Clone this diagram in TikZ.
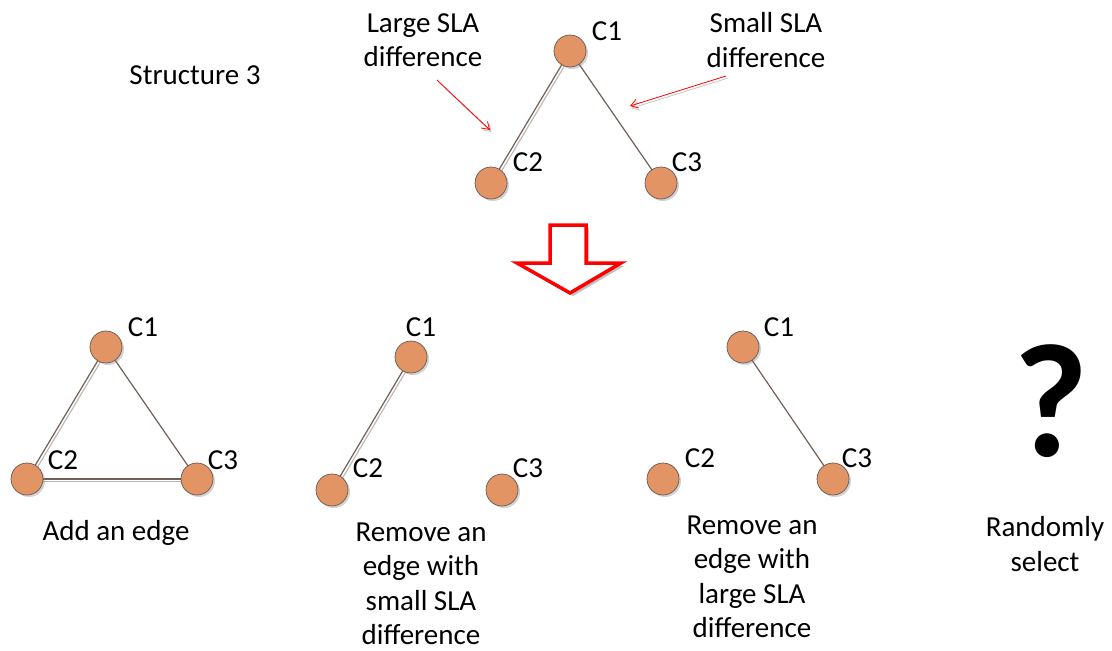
\documentclass[tikz,border=0pt]{standalone}
\usepackage{fontspec}
\setmainfont{Carlito}
\usetikzlibrary{shadows,arrows.meta}
\pgfdeclarelayer{background}
\pgfsetlayers{background,main}
\definecolor{nodefill}{RGB}{226,148,101}
\definecolor{nodeline}{RGB}{105,88,80}
\definecolor{edgecol}{RGB}{112,96,88}
\definecolor{edgelight}{RGB}{190,182,178}
\begin{document}
\begin{tikzpicture}[x=1pt,y=-1pt,
  cnode/.style={circle, minimum size=32pt, inner sep=0pt, fill=nodefill, draw=nodeline, line width=0.7pt,
    drop shadow={shadow xshift=2pt, shadow yshift=-2pt, opacity=0.35, fill=gray}},
  lbl/.style={font=\fontsize{29}{34.5}\selectfont, inner sep=0pt, align=center},
  sedge/.style={draw=edgecol, line width=1.2pt},
  ledge/.style={draw=edgelight, line width=1.1pt},
  redarrow/.style={draw=red, line width=0.8pt, -{Straight Barb[length=7pt,width=9pt]}},
  redshadow/.style={draw=gray!45, line width=0.8pt, -{Straight Barb[length=7pt,width=9pt]}},
  bigarrow/.style={draw=red, line width=3.5pt, fill=white, line join=miter,
    drop shadow={shadow xshift=3pt, shadow yshift=-3pt, opacity=0.5, fill=gray}}
]
\useasboundingbox (0,0) rectangle (1112,651);

% ---------- top structure ----------
\node[lbl] (title) at (195,75) {Structure 3};
\node[lbl] (largelbl) at (423,40) {Large SLA\\difference};
\node[lbl] (smalllbl) at (766,40) {Small SLA\\difference};

\node[cnode] (t1) at (570,51) {};
\node[cnode] (t2) at (491,183) {};
\node[cnode] (t3) at (661,183) {};
\node[lbl] (t1l) at (607,31) {C1};
\node[lbl] (t2l) at (528,162) {C2};
\node[lbl] (t3l) at (687,162) {C3};

\coordinate (la0) at (437,80);
\coordinate (la1) at (490,130);
\coordinate (sa0) at (726,76);
\coordinate (sa1) at (630,106);
\draw[redshadow, transform canvas={shift={(1.5pt,-2pt)}}] (la0) -- (la1);
\draw[redarrow] (la0) -- (la1);
\draw[redshadow, transform canvas={shift={(1.5pt,-2.2pt)}}] (sa0) -- (sa1);
\draw[redarrow] (sa0) -- (sa1);

% ---------- block arrow ----------
\draw[bigarrow] (550,225) -- (586,225) -- (586,263) -- (621,263) -- (570,293) -- (517,263) -- (550,263) -- cycle;

% ---------- bottom left ----------
\node[cnode] (a1) at (106,347) {};
\node[cnode] (a2) at (27,479) {};
\node[cnode] (a3) at (197,479) {};
\node[lbl] (a1l) at (143,327) {C1};
\node[lbl] (a2l) at (63,460) {C2};
\node[lbl] (a3l) at (223,460) {C3};
\node[lbl] (alab) at (116,533) {Add an edge};

% ---------- bottom middle ----------
\node[cnode] (b1) at (411,357) {};
\node[cnode] (b2) at (332,490) {};
\node[cnode] (b3) at (502,490) {};
\node[lbl] (b1l) at (421,327) {C1};
\node[lbl] (b2l) at (368,468) {C2};
\node[lbl] (b3l) at (528,468) {C3};
\node[lbl] (blab) at (421,584) {Remove an\\edge with\\small SLA\\difference};

% ---------- bottom right ----------
\node[cnode] (c1) at (743,347) {};
\node[cnode] (c2) at (663,479) {};
\node[cnode] (c3) at (833,479) {};
\node[lbl] (c1l) at (779,327) {C1};
\node[lbl] (c2l) at (700,458) {C2};
\node[lbl] (c3l) at (857,458) {C3};
\node[lbl] (clab) at (752,577) {Remove an\\edge with\\large SLA\\difference};

% ---------- random ----------
\node[inner sep=0pt, font=\fontsize{162}{162}\selectfont\bfseries] (qm) at (1051,401) {?};
\node[lbl] (rlab) at (1045,544) {Randomly\\select};

% ---------- edges ----------
\begin{pgfonlayer}{background}
  % top
  \draw[ledge, transform canvas={shift={(2.6pt,-1.4pt)}}] (t1.center) -- (t2.center);
  \draw[sedge] (t1.center) -- (t2.center);
  \draw[sedge] (t1.center) -- (t3.center);
  % left triangle
  \draw[ledge, transform canvas={shift={(2.6pt,-1.4pt)}}] (a1.center) -- (a2.center);
  \draw[sedge] (a1.center) -- (a2.center);
  \draw[ledge, transform canvas={shift={(0pt,-2.8pt)}}] (a2.center) -- (a3.center);
  \draw[sedge] (a2.center) -- (a3.center);
  \draw[sedge] (a1.center) -- (a3.center);
  % middle
  \draw[ledge, transform canvas={shift={(2.6pt,-1.4pt)}}] (b1.center) -- (b2.center);
  \draw[sedge] (b1.center) -- (b2.center);
  % right
  \draw[sedge] (c1.center) -- (c3.center);
\end{pgfonlayer}
\end{tikzpicture}
\end{document}
